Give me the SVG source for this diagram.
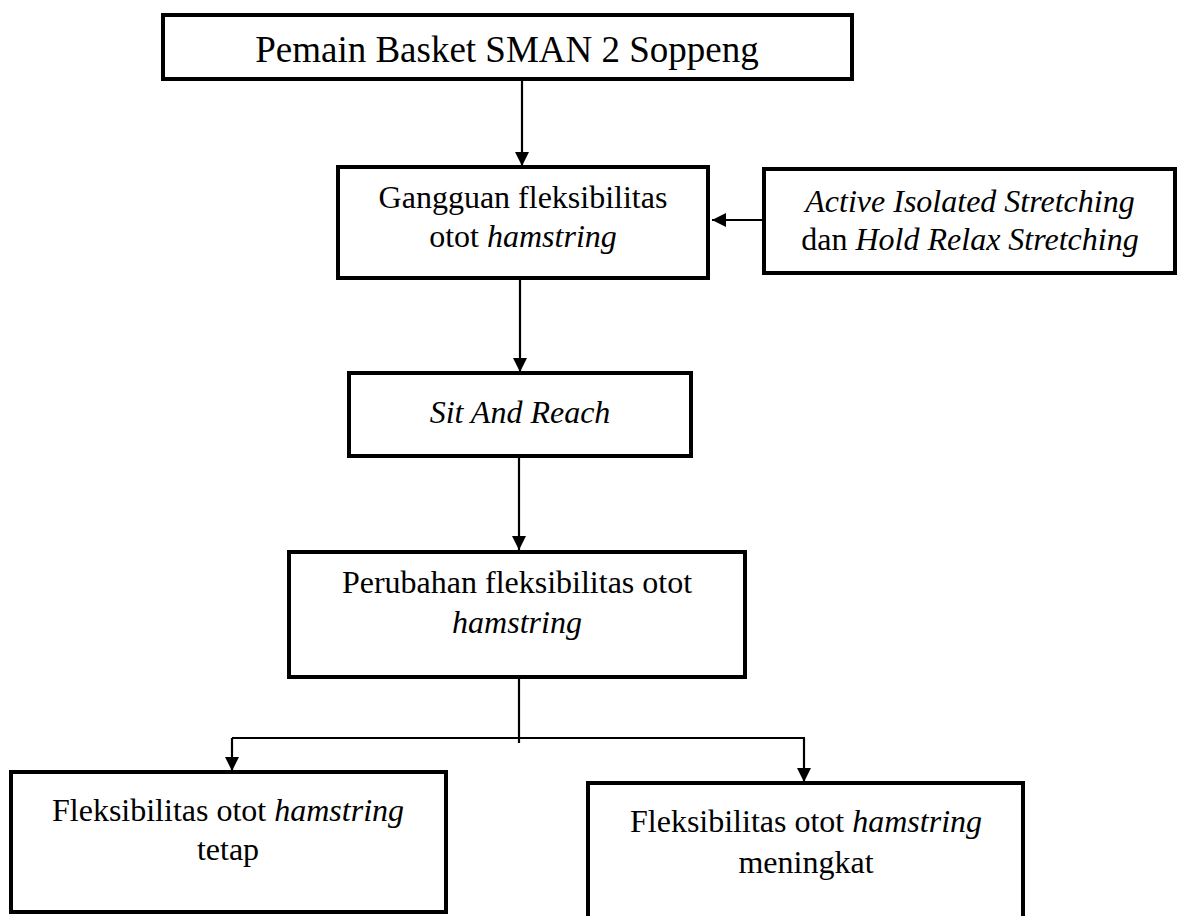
<svg xmlns="http://www.w3.org/2000/svg" width="1181" height="916" viewBox="0 0 1181 916">
<style>
.box{fill:#fff;stroke:#000;stroke-width:4}
.t{font-family:"Liberation Serif","Times New Roman",serif;font-size:32px;fill:#000;text-anchor:middle}
.i{font-style:italic}
.c{stroke:#000;stroke-width:2.2;fill:none}
</style>
<defs>
<marker id="ah" viewBox="0 0 10 10" refX="10" refY="5" markerWidth="14" markerHeight="14" markerUnits="userSpaceOnUse" orient="auto">
<path d="M0,0 L10,5 L0,10 z" fill="#000"/>
</marker>
</defs>
<rect width="1181" height="916" fill="#fff"/>
<g id="connectors">
<line class="c" x1="522" y1="79" x2="522" y2="166" marker-end="url(#ah)"/>
<line class="c" x1="764" y1="220" x2="712" y2="220" marker-end="url(#ah)"/>
<line class="c" x1="520" y1="278" x2="520" y2="372" marker-end="url(#ah)"/>
<line class="c" x1="519" y1="456" x2="519" y2="550" marker-end="url(#ah)"/>
<line class="c" x1="519" y1="677" x2="519" y2="743"/>
<line class="c" x1="232" y1="738" x2="805" y2="738"/>
<line class="c" x1="232" y1="738" x2="232" y2="771" marker-end="url(#ah)"/>
<line class="c" x1="804" y1="738" x2="804" y2="782" marker-end="url(#ah)"/>
</g>
<g id="n1">
<rect class="box" x="163" y="15" width="689" height="64"/>
<text class="t" x="507" y="62" style="font-size:37px">Pemain Basket SMAN 2 Soppeng</text>
</g>
<g id="n2">
<rect class="box" x="338" y="167" width="370" height="111"/>
<text class="t" x="523" y="208">Gangguan fleksibilitas</text>
<text class="t" x="523" y="247">otot <tspan class="i">hamstring</tspan></text>
</g>
<g id="n3">
<rect class="box" x="764" y="169" width="411" height="104"/>
<text class="t i" x="970" y="212">Active Isolated Stretching</text>
<text class="t" x="970" y="250">dan <tspan class="i">Hold Relax Stretching</tspan></text>
</g>
<g id="n4">
<rect class="box" x="349" y="373" width="342" height="83"/>
<text class="t i" x="520" y="423">Sit And Reach</text>
</g>
<g id="n5">
<rect class="box" x="289" y="552" width="456" height="125"/>
<text class="t" x="517" y="593">Perubahan fleksibilitas otot</text>
<text class="t i" x="517" y="633">hamstring</text>
</g>
<g id="n6">
<rect class="box" x="11" y="772" width="435" height="140"/>
<text class="t" x="228" y="821">Fleksibilitas otot <tspan class="i">hamstring</tspan></text>
<text class="t" x="228" y="860">tetap</text>
</g>
<g id="n7">
<rect class="box" x="588" y="783" width="435" height="140"/>
<text class="t" x="806" y="832">Fleksibilitas otot <tspan class="i">hamstring</tspan></text>
<text class="t" x="806" y="873">meningkat</text>
</g>
</svg>
